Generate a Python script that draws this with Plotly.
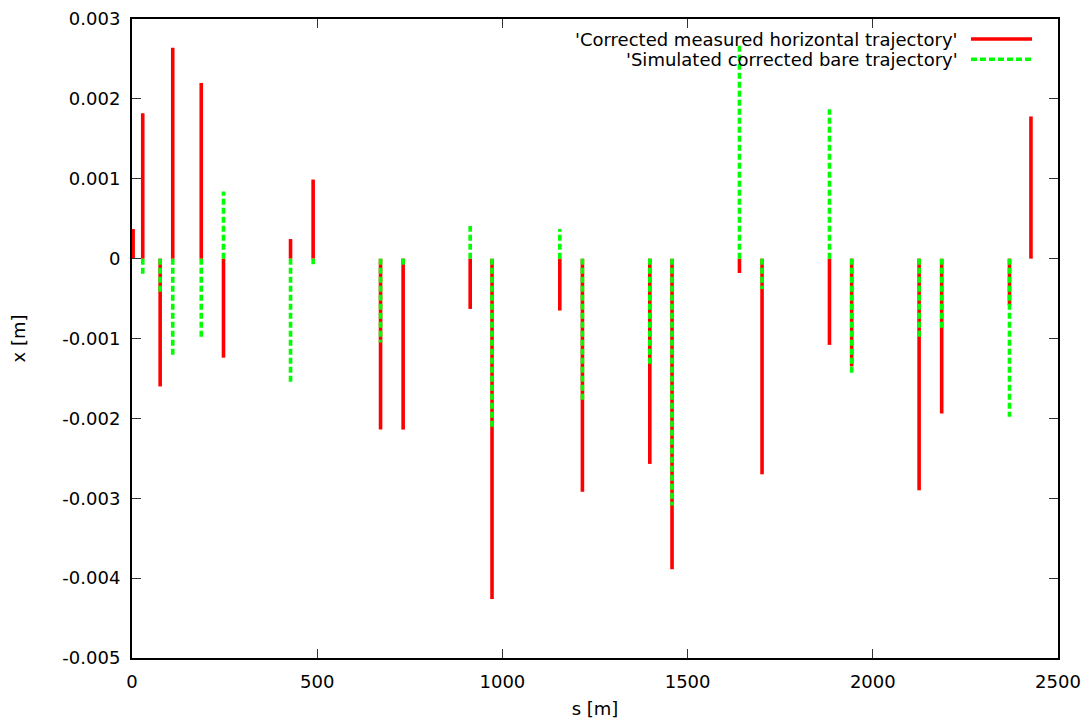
import plotly.graph_objects as go

# ---- data ----
s_pos = [3, 29, 76, 110, 187, 247, 428, 489, 671, 732, 913, 972,
         1155, 1216, 1398, 1458, 1640, 1701, 1883, 1943, 2125, 2186, 2369, 2427]
x_measured = [0.00037, 0.00182, -0.00160, 0.00264, 0.00220, -0.00124, 0.000245, 0.00099,
              -0.00214, -0.00214, -0.00063, -0.00426, -0.00065, -0.00292, -0.00257, -0.00389,
              -0.00018, -0.00270, -0.00108, -0.00135, -0.00290, -0.00194, -0.00058, 0.00178]
x_simulated = [0.0, -0.00019, -0.00045, -0.00122, -0.00099, 0.00084, -0.00156, -0.00007,
               -0.00105, -0.00008, 0.00041, -0.00214, 0.00037, -0.00178, -0.00133, -0.00309,
               0.00270, -0.00038, 0.00187, -0.00144, -0.00099, -0.00088, -0.00198, 0.0]

series_names = ["'Corrected measured horizontal trajectory'",
                "'Simulated corrected bare trajectory'"]

x_tickvals = [0, 500, 1000, 1500, 2000, 2500]
x_ticktext = ["0", "500", "1000", "1500", "2000", "2500"]
y_tickvals = [0.003, 0.002, 0.001, 0.0, -0.001, -0.002, -0.003, -0.004, -0.005]
y_ticktext = ["0.003", "0.002", "0.001", "0", "-0.001", "-0.002", "-0.003", "-0.004", "-0.005"]

RED = "#ff0000"
GREEN = "#00ff00"
FONT = "DejaVu Sans"


def impulses(xs, ys):
    X, Y = [], []
    for a, b in zip(xs, ys):
        X += [a, a, None]
        Y += [0, b, None]
    return X, Y


fig = go.Figure()
mx, my = impulses(s_pos, x_measured)
fig.add_trace(go.Scatter(x=mx, y=my, mode="lines", name=series_names[0],
                         line=dict(color=RED, width=3.6), connectgaps=False,
                         showlegend=False))
sx, sy = impulses(s_pos, x_simulated)
fig.add_trace(go.Scatter(x=sx, y=sy, mode="lines", name=series_names[1],
                         line=dict(color=GREEN, width=3.6, dash="6px,3px"),
                         connectgaps=False, showlegend=False))

# manual gnuplot-style key (text left, sample right)
key_rows = [0.9687, 0.9369]
key_styles = [dict(color=RED, width=3.6), dict(color=GREEN, width=3.6, dash="6px,3px")]
for name, yy, st in zip(series_names, key_rows, key_styles):
    fig.add_annotation(x=0.894, y=yy, xref="paper", yref="paper", text=name,
                       showarrow=False, xanchor="right", yanchor="middle",
                       font=dict(family=FONT, size=18, color="black"))
    fig.add_shape(type="line", xref="paper", yref="paper", x0=0.906, x1=0.972,
                  y0=yy, y1=yy, line=st)

axis_common = dict(showline=True, linecolor="black", linewidth=2, mirror="ticks",
                   ticks="inside", ticklen=9, tickwidth=1, tickcolor="#333333",
                   showgrid=False, zeroline=False,
                   tickfont=dict(family=FONT, size=18, color="black"))

fig.update_xaxes(range=[0, 2500], tickvals=x_tickvals, ticktext=x_ticktext,
                 title=dict(text="s [m]", standoff=12,
                            font=dict(family=FONT, size=18, color="black")),
                 ticklabelstandoff=6, **axis_common)
fig.update_yaxes(range=[-0.005, 0.003], tickvals=y_tickvals, ticktext=y_ticktext,
                 title=dict(text="x [m]", standoff=32,
                            font=dict(family=FONT, size=18, color="black")),
                 ticklabelstandoff=6, **axis_common)

fig.update_layout(width=1090, height=727,
                  margin=dict(l=132, r=32, t=19, b=69, autoexpand=False),
                  paper_bgcolor="white", plot_bgcolor="white",
                  font=dict(family=FONT, size=18, color="black"))

fig.write_html("out.html")
